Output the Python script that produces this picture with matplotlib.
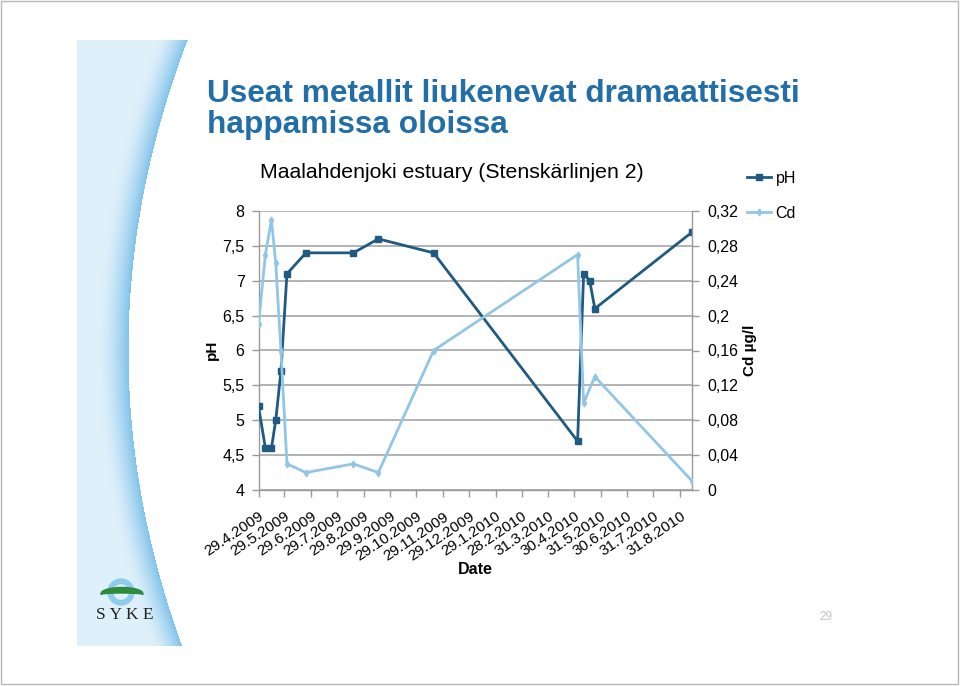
import numpy as np
import pandas as pd
import matplotlib
matplotlib.use("Agg")
import matplotlib.pyplot as plt
import matplotlib.dates as mdates
from matplotlib import patches
from matplotlib.ticker import FuncFormatter

# ---------------- data ----------------
ph_dates = ["2009-04-29", "2009-05-07", "2009-05-14", "2009-05-19", "2009-05-25",
            "2009-06-01", "2009-06-23", "2009-08-17", "2009-09-15", "2009-11-18",
            "2010-05-04", "2010-05-11", "2010-05-18", "2010-05-24", "2010-09-14"]
ph_values = [5.2, 4.6, 4.6, 5.0, 5.7, 7.1, 7.4, 7.4, 7.6, 7.4, 4.7, 7.1, 7.0, 6.6, 7.7]

cd_dates = ["2009-04-29", "2009-05-07", "2009-05-14", "2009-05-19", "2009-05-25",
            "2009-06-01", "2009-06-23", "2009-08-17", "2009-09-15", "2009-11-18",
            "2010-05-04", "2010-05-11", "2010-05-24", "2010-09-14"]
cd_values = [0.19, 0.27, 0.31, 0.26, 0.16, 0.03, 0.02, 0.03, 0.02, 0.16,
             0.27, 0.10, 0.13, 0.01]

tick_labels = ["29.4.2009", "29.5.2009", "29.6.2009", "29.7.2009", "29.8.2009",
               "29.9.2009", "29.10.2009", "29.11.2009", "29.12.2009", "29.1.2010",
               "28.2.2010", "31.3.2010", "30.4.2010", "31.5.2010", "30.6.2010",
               "31.7.2010", "31.8.2010"]
ph_ticks = [4, 4.5, 5, 5.5, 6, 6.5, 7, 7.5, 8]
cd_ticks = [0, 0.04, 0.08, 0.12, 0.16, 0.2, 0.24, 0.28, 0.32]

title_lines = ["Useat metallit liukenevat dramaattisesti", "happamissa oloissa"]
chart_title = "Maalahdenjoki estuary (Stenskärlinjen 2)"

# ---------------- style ----------------
W, H = 960, 686
plt.rcParams['font.family'] = ['Liberation Sans', 'DejaVu Sans']
PH_COL = "#1f5a82"
CD_COL = "#92c6e6"
GRID = "#a6a6a6"
TITLE_COL = "#226ea8"
TICK_FS = 11.5

fig = plt.figure(figsize=(W / 100, H / 100), dpi=100)

# background slide decoration
bg = fig.add_axes([0, 0, 1, 1], zorder=-10)
img = np.ones((H, W, 3))
yy, xx = np.mgrid[0:H, 0:W]
xc = 128 + 59 * ((yy - 350) / 310.0) ** 2
inside = (yy >= 40) & (yy <= 645) & (xx >= 77) & (xx <= xc)
light = np.array([222, 240, 250]) / 255.0
dark = np.array([128, 195, 234]) / 255.0
d = np.clip((xc - xx) / 30.0, 0, 1)
t = (1 - d) ** 1.6
col = light[None, None, :] * (1 - t[..., None]) + dark[None, None, :] * t[..., None]
img[inside] = col[inside]
bg.imshow(img, extent=(0, W, H, 0), aspect='auto', interpolation='bilinear')
bg.set_xlim(0, W)
bg.set_ylim(H, 0)
bg.axis('off')
bg.add_patch(patches.Rectangle((1, 1), W - 3, H - 3, fill=False, ec="#b8b8b8", lw=1))
# logo
bg.add_patch(patches.Annulus((121, 592), 13, 4.5, color="#8fcbea"))
hx = np.linspace(101, 143, 40)
top = 593.5 - 6 * np.sqrt(np.clip(1 - ((hx - 122) / 21) ** 2, 0, 1))
bot = 594.5 - 1.5 * np.sqrt(np.clip(1 - ((hx - 122) / 21) ** 2, 0, 1))
bg.add_patch(patches.Polygon(np.column_stack([np.r_[hx, hx[::-1]], np.r_[top, bot[::-1]]]),
                             closed=True, color="#2e8a3c"))
fig.text(125 / W, 1 - 615 / H, "S Y K E", family=['Liberation Serif', 'DejaVu Serif'],
         fontsize=12.5, ha='center', va='center', color="#222222")
fig.text(826 / W, 1 - 617 / H, "29", fontsize=8.5, ha='center', va='center', color="#c4c4c4")

# slide title
fig.text(207 / W, 1 - 102 / H, title_lines[0], fontsize=22.8, fontweight='bold',
         color=TITLE_COL, ha='left', va='baseline')
fig.text(207 / W, 1 - 133 / H, title_lines[1], fontsize=22.8, fontweight='bold',
         color=TITLE_COL, ha='left', va='baseline')

# chart
x0, x1, y0, y1 = 258.5, 692.3, 211, 490
ax = fig.add_axes([x0 / W, 1 - y1 / H, (x1 - x0) / W, (y1 - y0) / H])
ax.patch.set_alpha(0)
ax2 = ax.twinx()

pd_ph = pd.to_datetime(ph_dates)
pd_cd = pd.to_datetime(cd_dates)
ax.plot(pd_ph, ph_values, color=PH_COL, lw=2, marker='s', ms=5, label='pH', zorder=3)
ax2.plot(pd_cd, cd_values, color=CD_COL, lw=2, marker='d', ms=3.5, label='Cd', zorder=3)

ax.set_ylim(4, 8)
ax2.set_ylim(0, 0.32)
ax.set_yticks(ph_ticks)
ax2.set_yticks(cd_ticks)
comma = FuncFormatter(lambda v, p: ("%g" % round(v, 3)).replace('.', ','))
ax.yaxis.set_major_formatter(comma)
ax2.yaxis.set_major_formatter(comma)

tick_dates = pd.to_datetime(tick_labels, format="%d.%m.%Y")
ax.set_xticks(mdates.date2num(tick_dates))
ax.set_xticklabels(tick_labels, rotation=34, ha='right', va='top', rotation_mode='anchor',
                   fontsize=11)
ax.set_xlim(mdates.date2num(tick_dates[0]), mdates.date2num(pd_ph[-1]))

ax.grid(axis='y', color=GRID, lw=1.2)
ax.set_axisbelow(True)
for a in (ax, ax2):
    for s in a.spines.values():
        s.set_visible(False)
ax.spines['left'].set_visible(True)
ax.spines['bottom'].set_visible(True)
ax2.spines['right'].set_visible(True)
for s in (ax.spines['left'], ax.spines['bottom'], ax2.spines['right']):
    s.set_color("#9a9a9a")
    s.set_linewidth(1)
ax.tick_params(axis='both', colors="#9a9a9a", labelcolor='black', length=5, width=1)
ax.tick_params(axis='y', pad=5, labelsize=TICK_FS)
ax.tick_params(axis='x', pad=9)
ax2.tick_params(axis='y', colors="#9a9a9a", labelcolor='black', labelsize=TICK_FS,
                length=5, width=1, pad=6)

fig.text(212 / W, 1 - 350 / H, "pH", fontsize=11, fontweight='bold', rotation=90,
         ha='center', va='center')
fig.text(750 / W, 1 - 350 / H, "Cd µg/l", fontsize=11, fontweight='bold', rotation=90,
         ha='center', va='center')
fig.text(475 / W, 1 - 569 / H, "Date", fontsize=11.5, fontweight='bold', ha='center', va='center')
fig.text(452 / W, 1 - 172 / H, chart_title, fontsize=15.3, ha='center', va='center')

h1, l1 = ax.get_legend_handles_labels()
h2, l2 = ax2.get_legend_handles_labels()
fig.legend(h1 + h2, l1 + l2, loc='upper left', bbox_to_anchor=(747 / W, 1 - 171 / H),
           frameon=False, fontsize=11.5, handlelength=1.5, handletextpad=0.3,
           labelspacing=1.25, borderaxespad=0, borderpad=0)

fig.savefig("out.png", dpi=100)
